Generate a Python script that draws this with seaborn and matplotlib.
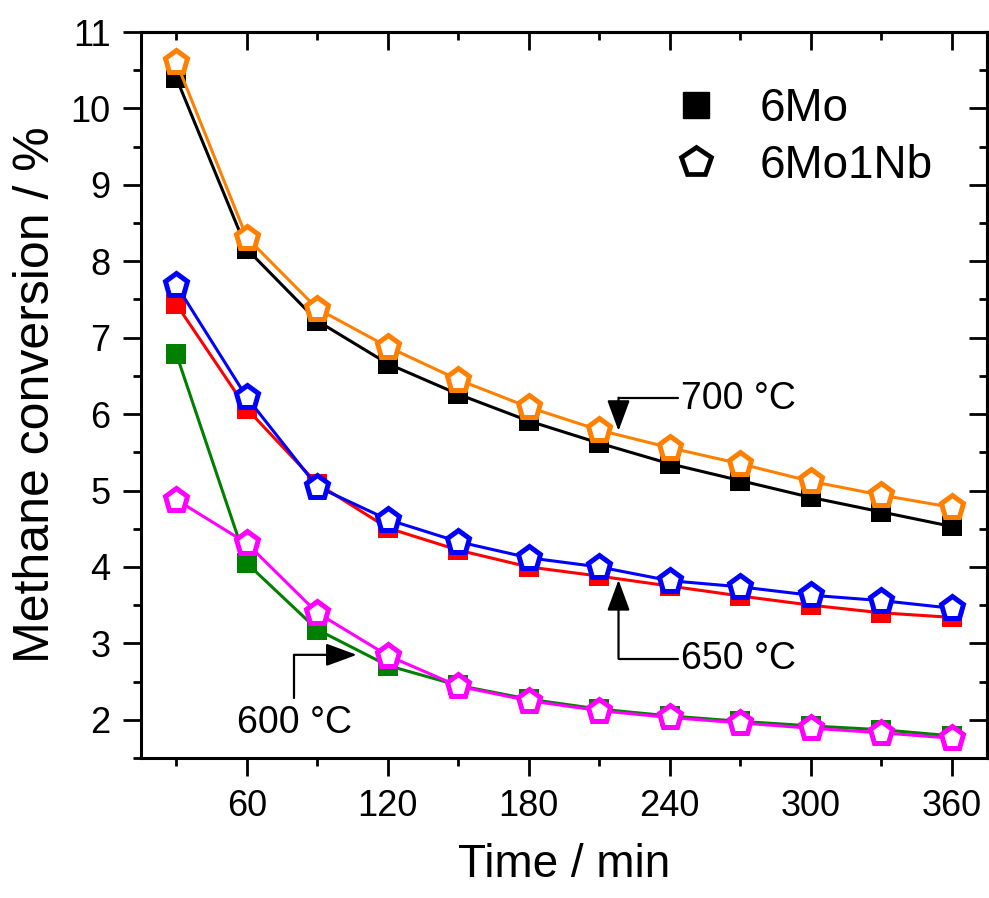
import matplotlib
matplotlib.use("Agg")
import matplotlib.pyplot as plt
import seaborn as sns
import pandas as pd
from matplotlib.lines import Line2D
from matplotlib.ticker import MultipleLocator

time_min = [30, 60, 90, 120, 150, 180, 210, 240, 270, 300, 330, 360]

mo_700 = [10.40, 8.16, 7.22, 6.66, 6.26, 5.91, 5.62, 5.35, 5.13, 4.91, 4.72, 4.53]
nb_700 = [10.61, 8.31, 7.38, 6.88, 6.45, 6.09, 5.79, 5.56, 5.35, 5.12, 4.94, 4.78]
mo_650 = [7.44, 6.07, 5.09, 4.51, 4.22, 4.00, 3.88, 3.75, 3.62, 3.50, 3.40, 3.34]
nb_650 = [7.69, 6.22, 5.05, 4.62, 4.33, 4.12, 4.00, 3.82, 3.74, 3.63, 3.56, 3.46]
mo_600 = [6.79, 4.05, 3.18, 2.71, 2.45, 2.27, 2.14, 2.05, 1.98, 1.92, 1.87, 1.79]
nb_600 = [4.88, 4.31, 3.40, 2.84, 2.44, 2.25, 2.12, 2.03, 1.96, 1.89, 1.83, 1.76]

legend_labels = ["6Mo", "6Mo1Nb"]
temp_labels = ["700 °C", "650 °C", "600 °C"]

sns.set_style("ticks")
plt.rcParams.update({
    "font.family": ["Liberation Sans", "DejaVu Sans"],
    "text.color": "black",
    "axes.labelcolor": "black",
    "axes.edgecolor": "black",
    "axes.linewidth": 2.2,
    "xtick.color": "black", "ytick.color": "black",
    "xtick.labelcolor": "black", "ytick.labelcolor": "black",
    "xtick.labelsize": 26, "ytick.labelsize": 26,
    "xtick.major.size": 13, "ytick.major.size": 13,
    "xtick.minor.size": 6, "ytick.minor.size": 6,
    "xtick.major.width": 2.0, "ytick.major.width": 2.0,
    "xtick.minor.width": 2.0, "ytick.minor.width": 2.0,
    "xtick.major.pad": 9, "ytick.major.pad": 9,
    "xtick.direction": "out", "ytick.direction": "out",
})

fig = plt.figure(figsize=(9.89, 8.98), dpi=100)
ax = fig.add_axes([141/989, 140/898, 846/989, 726/898])

series = [
    (mo_700, "black", "s"), (mo_650, "#FF0000", "s"), (mo_600, "#008000", "s"),
    (nb_700, "#FF8000", "p"), (nb_650, "#0000FF", "p"), (nb_600, "#FF00FF", "p"),
]
for vals, col, mk in series:
    df = pd.DataFrame({"t": time_min, "v": vals})
    if mk == "s":
        sns.lineplot(data=df, x="t", y="v", ax=ax, color=col, linewidth=2.2,
                     marker="s", markersize=14, markerfacecolor=col,
                     markeredgecolor=col, markeredgewidth=0)
    else:
        sns.lineplot(data=df, x="t", y="v", ax=ax, color=col, linewidth=2.2,
                     marker="p", markersize=17, markerfacecolor="white",
                     markeredgecolor=col, markeredgewidth=3.6)

ax.set_xlim(15, 375)
ax.set_ylim(1.5, 11)
ax.xaxis.set_major_locator(MultipleLocator(60))
ax.xaxis.set_minor_locator(MultipleLocator(30))
ax.yaxis.set_major_locator(MultipleLocator(1))
ax.yaxis.set_minor_locator(MultipleLocator(0.5))

# top/right ticks point inward: secondary axes
secx = ax.secondary_xaxis("top")
secx.xaxis.set_major_locator(MultipleLocator(60))
secx.xaxis.set_minor_locator(MultipleLocator(30))
secx.tick_params(which="both", direction="in", labeltop=False)
secx.spines["top"].set_linewidth(2.2)
secy = ax.secondary_yaxis("right")
secy.yaxis.set_major_locator(MultipleLocator(1))
secy.yaxis.set_minor_locator(MultipleLocator(0.5))
secy.tick_params(which="both", direction="in", labelright=False)
secy.spines["right"].set_linewidth(2.2)

ax.tick_params(which="both", direction="out", top=False, right=False,
               bottom=True, left=True)

for s in ax.spines.values():
    s.set_linewidth(2.2)

ax.set_xlabel("Time / min", fontsize=33, labelpad=14)
ax.set_ylabel("Methane conversion / %", fontsize=36, labelpad=8)

# legend
handles = [
    Line2D([], [], linestyle="none", marker="s", markersize=19, color="black"),
    Line2D([], [], linestyle="none", marker="p", markersize=22, markerfacecolor="white",
           markeredgecolor="black", markeredgewidth=3.4),
]
ax.legend(handles, legend_labels, loc="upper left", bbox_to_anchor=(0.58, 0.981),
          frameon=False, fontsize=33, handlelength=1.0, handletextpad=0.9,
          labelspacing=0.28)

# annotations
arrow_kw = dict(arrowstyle="-|>,head_length=1.9,head_width=0.7", color="black",
                lw=1.6, shrinkA=0, shrinkB=0, mutation_scale=10)
# 700 °C
ax.plot([243.7, 218.2], [6.215, 6.215], color="black", lw=1.6)
ax.annotate("", xy=(218.2, 5.78), xytext=(218.2, 6.215), arrowprops=arrow_kw)
ax.text(244.7, 6.2, temp_labels[0], fontsize=27, va="center", ha="left")
# 650 °C
ax.plot([243.7, 218.2], [2.80, 2.80], color="black", lw=1.6)
ax.annotate("", xy=(218.2, 3.83), xytext=(218.2, 2.80), arrowprops=arrow_kw)
ax.text(244.7, 2.79, temp_labels[1], fontsize=27, va="center", ha="left")
# 600 °C
ax.plot([80.1, 80.1], [2.29, 2.85], color="black", lw=1.6)
ax.annotate("", xy=(106.8, 2.85), xytext=(80.1, 2.85), arrowprops=arrow_kw)
ax.text(80.5, 1.96, temp_labels[2], fontsize=27, va="center", ha="center")

fig.savefig("out.png", dpi=100)
